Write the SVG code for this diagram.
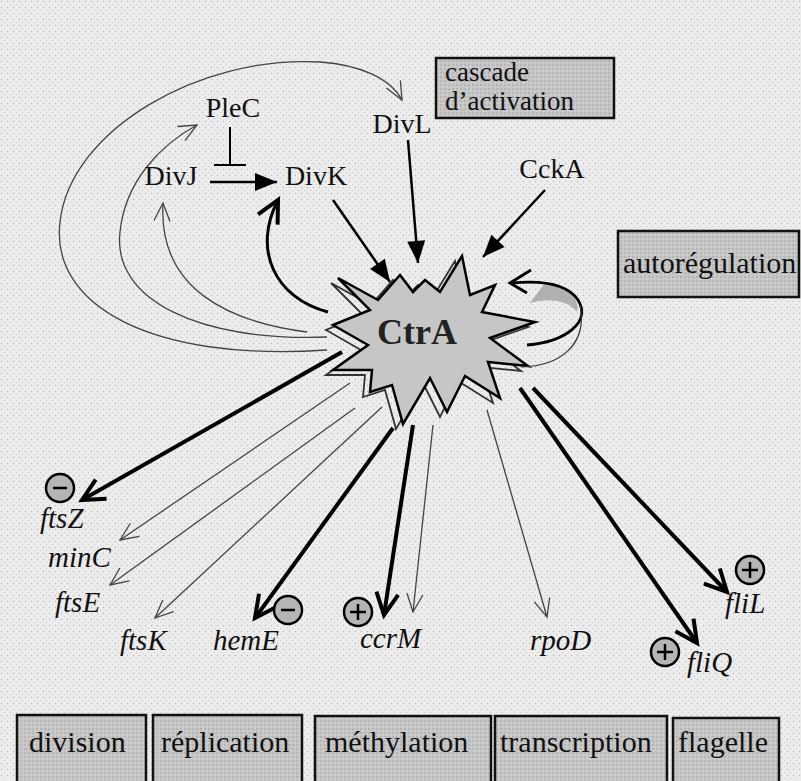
<svg xmlns="http://www.w3.org/2000/svg" width="801" height="781" viewBox="0 0 801 781">
<defs>
<pattern id="dots" width="6" height="6" patternUnits="userSpaceOnUse">
<rect width="6" height="6" fill="#ececec"/>
<circle cx="1.5" cy="1.5" r="0.7" fill="#b8b8b8"/>
<circle cx="4.5" cy="4.5" r="0.6" fill="#c4c4c4"/>
</pattern>
<pattern id="boxdots" width="4" height="4" patternUnits="userSpaceOnUse">
<rect width="4" height="4" fill="#c6c6c6"/>
<circle cx="1" cy="1" r="0.7" fill="#9a9a9a"/>
<circle cx="3" cy="3" r="0.5" fill="#e0e0e0"/>
</pattern>
<marker id="filled" viewBox="-24 -12 28 24" refX="0" refY="0" markerWidth="28" markerHeight="24" markerUnits="userSpaceOnUse" orient="auto" overflow="visible">
<path d="M -22,-9 L 0,0 L -22,9 Z" fill="#000"/>
</marker>
<marker id="thick" viewBox="-26 -14 30 28" refX="0" refY="0" markerWidth="30" markerHeight="28" markerUnits="userSpaceOnUse" orient="auto" overflow="visible">
<path d="M -22,-11 L 0,0 L -22,11" fill="none" stroke="#000" stroke-width="4" stroke-linejoin="miter"/>
</marker>
<marker id="thin" viewBox="-22 -12 26 24" refX="0" refY="0" markerWidth="26" markerHeight="24" markerUnits="userSpaceOnUse" orient="auto" overflow="visible">
<path d="M -18,-8 L 0,0 L -18,8" fill="none" stroke="#444" stroke-width="1.3"/>
</marker>
<style>
.box{fill:url(#boxdots);stroke:#111;stroke-width:2.5}
.lbl{font-family:"Liberation Serif","Times New Roman",serif;font-size:30px;fill:#111}
.lbl2{font-family:"Liberation Serif","Times New Roman",serif;font-size:27px;fill:#111}
.node{font-family:"Liberation Serif","Times New Roman",serif;font-size:28px;fill:#111}
.gene{font-family:"Liberation Serif","Times New Roman",serif;font-size:29px;font-style:italic;fill:#111}
.in{stroke:#000;stroke-width:2.5;fill:none;marker-end:url(#filled)}
.tk{stroke:#000;stroke-width:4;fill:none;marker-end:url(#thick)}
.tn{stroke:#444;stroke-width:1.3;fill:none;marker-end:url(#thin)}
.sign{fill:#b5b5b5;stroke:#000;stroke-width:2.5}
.sg{stroke:#000;stroke-width:2.5}
</style>
</defs>
<rect width="801" height="781" fill="url(#dots)"/>

<g id="connectors">
<path class="in" d="M 210,182 L 277,182"/>
<path d="M 230,127 L 230,165 M 214,165 L 246,165" stroke="#000" stroke-width="2" fill="none"/>
<path class="in" d="M 408,140 L 418,263"/>
<path class="in" d="M 333,200 L 390,282"/>
<path class="in" d="M 545,190 L 483,257"/>
<path class="tk" style="stroke-width:3" d="M 328,312 C 275,298 252,250 278,200"/>
<path class="tn" d="M 307,332 C 230,322 158,290 163,203"/>
<path class="tn" d="M 327,337 C 200,342 112,300 120,232 C 125,182 160,145 197,125"/>
<path class="tn" d="M 327,350 C 150,362 50,305 60,222 C 70,130 200,55 320,62 C 360,65 390,78 402,100"/>
<path class="tk" d="M 342,352 L 82,500"/>
<path class="tn" d="M 350,383 L 120,540"/>
<path class="tn" d="M 355,408 L 110,585"/>
<path class="tn" d="M 382,407 L 155,618"/>
<path class="tk" d="M 393,428 L 255,618"/>
<path class="tk" d="M 413,425 L 384,615"/>
<path class="tn" d="M 433,425 L 413,612"/>
<path class="tn" d="M 487,410 L 547,617"/>
<path class="tk" d="M 520,388 L 697,643"/>
<path class="tk" d="M 533,388 L 727,592"/>
</g>

<g id="CtrA">
<polygon points="338,278 378,300 400,275 413,292 425,280 440,292 462,256 470,295 495,285 482,312 535,322 490,338 528,366 488,362 500,398 465,376 447,412 430,378 403,424 392,385 370,392 372,370 333,370 368,345 333,325 370,310" fill="none" stroke="#333" stroke-width="1.8" transform="translate(-7,5)"/>
<polygon points="338,278 378,300 400,275 413,292 425,280 440,292 462,256 470,295 495,285 482,312 535,322 490,338 528,366 488,362 500,398 465,376 447,412 430,378 403,424 392,385 370,392 372,370 333,370 368,345 333,325 370,310" fill="#c6c6c6" stroke="#000" stroke-width="2.5" stroke-linejoin="miter"/>
<text x="417" y="344" text-anchor="middle" font-family="Liberation Serif,Times New Roman,serif" font-size="36" font-weight="bold" fill="#222">CtrA</text>
</g>

<g id="autoloop">
<path d="M 530,303 C 555,296 572,304 577,312 C 580,300 570,287 545,283 Z" fill="#b0b0b0" stroke="none"/>
<path d="M 527,345 C 565,342 592,322 578,300 C 568,285 545,280 512,283" fill="none" stroke="#000" stroke-width="2.8"/>
<path d="M 521,367 C 560,366 588,345 580,305" fill="none" stroke="#333" stroke-width="1.2"/>
<path d="M 531,270 L 510,283 L 527,293" fill="none" stroke="#000" stroke-width="2.8"/>
</g>

<g id="PleC"><text class="node" x="233" y="117" text-anchor="middle">PleC</text></g>
<g id="DivJ"><text class="node" x="171" y="185" text-anchor="middle">DivJ</text></g>
<g id="DivK"><text class="node" x="316" y="185" text-anchor="middle">DivK</text></g>
<g id="DivL"><text class="node" x="402" y="133" text-anchor="middle">DivL</text></g>
<g id="CckA"><text class="node" x="552" y="178" text-anchor="middle">CckA</text></g>

<g id="cascade">
<rect class="box" x="436" y="58" width="178" height="60"/>
<text class="lbl2" x="445" y="81">cascade</text>
<text class="lbl2" x="445" y="110">d’activation</text>
</g>
<g id="autoregulation">
<rect class="box" x="618" y="231" width="181" height="66"/>
<text class="lbl" x="623" y="273">autorégulation</text>
</g>

<g id="ftsZ">
<circle class="sign" cx="60" cy="488" r="14"/><path class="sg" d="M 53,488 L 67,488"/>
<text class="gene" x="40" y="528">ftsZ</text>
</g>
<g id="minC"><text class="gene" x="48" y="567">minC</text></g>
<g id="ftsE"><text class="gene" x="55" y="612">ftsE</text></g>
<g id="ftsK"><text class="gene" x="120" y="650">ftsK</text></g>
<g id="hemE">
<circle class="sign" cx="288" cy="610" r="14"/><path class="sg" d="M 281,610 L 295,610"/>
<text class="gene" x="213" y="650">hemE</text>
</g>
<g id="ccrM">
<circle class="sign" cx="358" cy="612" r="14"/><path class="sg" d="M 350,612 L 366,612 M 358,604 L 358,620"/>
<text class="gene" x="360" y="648">ccrM</text>
</g>
<g id="rpoD"><text class="gene" x="530" y="650">rpoD</text></g>
<g id="fliL">
<circle class="sign" cx="750" cy="570" r="14"/><path class="sg" d="M 742,570 L 758,570 M 750,562 L 750,578"/>
<text class="gene" x="725" y="613">fliL</text>
</g>
<g id="fliQ">
<circle class="sign" cx="665" cy="652" r="14"/><path class="sg" d="M 657,652 L 673,652 M 665,644 L 665,660"/>
<text class="gene" x="687" y="672">fliQ</text>
</g>

<g id="division"><rect class="box" x="17" y="715" width="129" height="80"/><text class="lbl" x="29" y="752">division</text></g>
<g id="replication"><rect class="box" x="153" y="715" width="149" height="80"/><text class="lbl" x="161" y="752">réplication</text></g>
<g id="methylation"><rect class="box" x="315" y="716" width="176" height="80"/><text class="lbl" x="325" y="752">méthylation</text></g>
<g id="transcription"><rect class="box" x="495" y="716" width="172" height="80"/><text class="lbl" x="500" y="752">transcription</text></g>
<g id="flagelle"><rect class="box" x="673" y="718" width="106" height="80"/><text class="lbl" x="678" y="752">flagelle</text></g>
</svg>
